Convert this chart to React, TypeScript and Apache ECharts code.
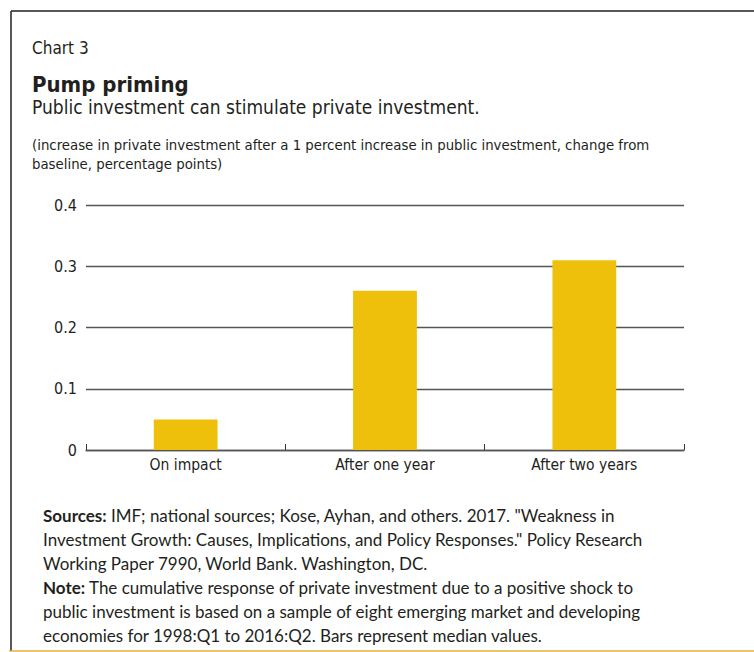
import React, { useEffect, useRef } from "react";
import * as echarts from "echarts";

const categories = ["On impact", "After one year", "After two years"];
const values = [0.05, 0.26, 0.31];
const yTicks = { min: 0, max: 0.4, interval: 0.1 };

const chartLabel = "Chart 3";
const titleText = "Pump priming";
const subtitleText = "Public investment can stimulate private investment.";
const unitLines = [
  "(increase in private investment after a 1 percent increase in public investment, change from",
  "baseline, percentage points)",
];
const footerLines = [
  "{b|Sources:} IMF; national sources; Kose, Ayhan, and others. 2017. \"Weakness in",
  "Investment Growth: Causes, Implications, and Policy Responses.\" Policy Research",
  "Working Paper 7990, World Bank. Washington, DC.",
  "{b|Note:} The cumulative response of private investment due to a positive shock to",
  "public investment is based on a sample of eight emerging market and developing",
  "economies for 1998:Q1 to 2016:Q2. Bars represent median values.",
];

const COND = "'Liberation Sans Narrow', 'DejaVu Sans Condensed', 'Roboto Condensed', Roboto, sans-serif";
const BODY = "Lato, 'Open Sans', sans-serif";
const INK = "#231f20";
const BAR = "#EFC00B";

export default function App() {
  const ref = useRef<HTMLDivElement>(null);
  useEffect(() => {
    if (!ref.current) return;
    const chart = echarts.init(ref.current, undefined, { renderer: "svg" });
    chart.setOption({
      animation: false,
      backgroundColor: "#ffffff",
      grid: { left: 86, right: 70, top: 205, bottom: 202, containLabel: false },
      xAxis: {
        type: "category",
        data: categories,
        axisLine: { show: true, lineStyle: { color: "#555", width: 1.3 } },
        axisTick: { show: true, inside: true, length: 6, lineStyle: { color: "#333", width: 1 } },
        axisLabel: { color: INK, fontFamily: COND, fontSize: 15.5, margin: 7 },
        splitLine: { show: false },
      },
      yAxis: {
        type: "value",
        min: yTicks.min,
        max: yTicks.max,
        interval: yTicks.interval,
        axisLine: { show: false },
        axisTick: { show: false },
        axisLabel: { color: INK, fontFamily: COND, fontSize: 16, margin: 9 },
        splitLine: { show: true, lineStyle: { color: "#555", width: 1.3 } },
      },
      series: [
        {
          type: "bar",
          data: values,
          barWidth: "32%",
          itemStyle: { color: BAR },
        },
      ],
      graphic: [
        { type: "line", shape: { x1: 11, y1: 11, x2: 754, y2: 11 }, style: { stroke: INK, lineWidth: 1.5 } },
        { type: "line", shape: { x1: 11, y1: 11, x2: 11, y2: 651 }, style: { stroke: INK, lineWidth: 1.5 } },
        { type: "line", shape: { x1: 9, y1: 651, x2: 754, y2: 651 }, style: { stroke: "#E3B23C", lineWidth: 1.5 } },
        {
          type: "text", left: 32, top: 39,
          style: { text: chartLabel, fontFamily: COND, fontSize: 17, fill: INK },
        },
        {
          type: "text", left: 32, top: 73,
          style: { text: titleText, fontFamily: COND, fontSize: 22, fontWeight: "bold", fill: INK },
        },
        {
          type: "text", left: 32, top: 97,
          style: { text: subtitleText, fontFamily: COND, fontSize: 19, fill: INK },
        },
        {
          type: "text", left: 32, top: 135,
          style: { text: unitLines.join("\n"), fontFamily: COND, fontSize: 14.8, lineHeight: 19, fill: INK },
        },
        {
          type: "text", left: 43, top: 503,
          style: {
            text: footerLines.join("\n"),
            fontFamily: BODY,
            fontSize: 17,
            lineHeight: 24,
            fill: INK,
            rich: { b: { fontFamily: BODY, fontSize: 17, fontWeight: "bold", fill: INK, lineHeight: 24 } },
          },
        },
      ],
    });
    return () => chart.dispose();
  }, []);
  return (
    <div
      ref={ref}
      style={{ position: "absolute", left: 0, top: 0, width: 754, height: 652 }}
    />
  );
}
